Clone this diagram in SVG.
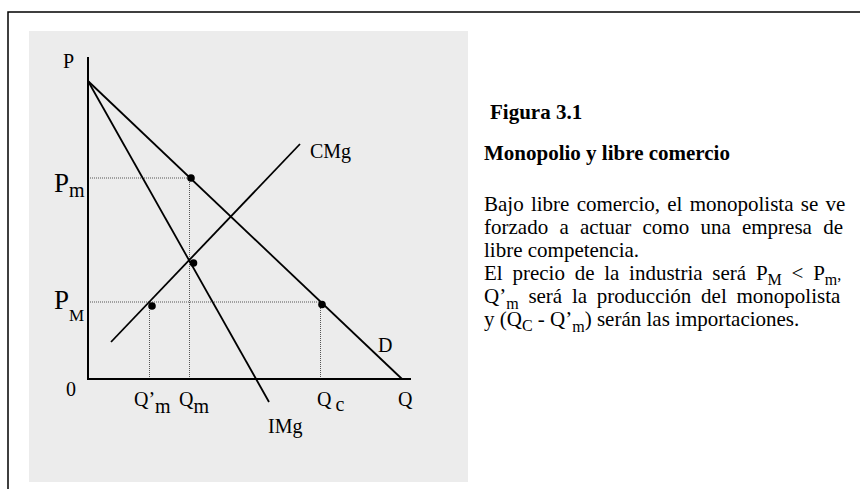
<svg xmlns="http://www.w3.org/2000/svg" width="860" height="489" viewBox="0 0 860 489">
<style>
text{font-family:"Liberation Serif","Times New Roman",serif;fill:#000}
.lbl{font-size:20px}
.big{font-size:27px}
.ttl{font-size:21px;font-weight:bold}
.body{font-size:21px}
.sub{font-size:16px}
.curve{stroke:#000;stroke-width:1.8;fill:none}
.dot{stroke:#555;stroke-width:1;stroke-dasharray:1 1;fill:none}
</style>
<rect x="0" y="0" width="860" height="489" fill="#fff"/>
<path d="M8,489 V12 H860" fill="none" stroke="#000" stroke-width="1.5"/>
<rect x="29" y="31" width="439" height="451" fill="#ececec"/>
<g id="connectors">
<path class="dot" d="M88,178 H191 M189.5,178 V379 M88,302 H321 M149.5,302 V379 M320.5,302 V379"/>
<path d="M88,57 V379 H411" fill="none" stroke="#000" stroke-width="2"/>
<line class="curve" x1="88" y1="81" x2="402" y2="379"/>
<line class="curve" x1="88" y1="81" x2="269" y2="402"/>
<line class="curve" x1="111" y1="342" x2="300" y2="144"/>
</g>
<g id="points">
<circle cx="191" cy="178" r="3.8"/>
<circle cx="193.5" cy="263" r="3.8"/>
<circle cx="152" cy="306" r="3.8"/>
<circle cx="322" cy="304.5" r="3.8"/>
</g>
<g id="labels">
<text class="lbl" x="63" y="68">P</text>
<text class="big" x="54" y="192">P<tspan font-size="20" dy="5">m</tspan></text>
<text class="big" x="54" y="309">P<tspan font-size="17" dy="12">M</tspan></text>
<text class="lbl" x="66" y="396">0</text>
<text class="lbl" x="134" y="406">Q’<tspan dy="7">m</tspan></text>
<text class="lbl" x="179" y="406">Q<tspan dy="7">m</tspan></text>
<text class="lbl" x="317" y="406">Q<tspan dx="4" dy="5">c</tspan></text>
<text class="lbl" x="398" y="406">Q</text>
<text class="lbl" x="268" y="433">IMg</text>
<text class="lbl" x="378" y="352">D</text>
<text class="lbl" x="310" y="158">CMg</text>
</g>
<g id="caption">
<text class="ttl" x="490" y="119">Figura 3.1</text>
<text class="ttl" x="484" y="160">Monopolio y libre comercio</text>
<text class="body" x="484" y="211" word-spacing="2">Bajo libre comercio, el monopolista se ve</text>
<text class="body" x="484" y="234" word-spacing="6">forzado a actuar como una empresa de</text>
<text class="body" x="484" y="257">libre competencia.</text>
<text class="body" x="484" y="280" word-spacing="4.5">El precio de la industria será P<tspan class="sub" dy="5">M</tspan><tspan dy="-5"> &lt; P</tspan><tspan class="sub" dy="5">m</tspan><tspan class="sub" dy="-5">,</tspan></text>
<text class="body" x="484" y="303" word-spacing="4.5">Q’<tspan class="sub" dy="6">m</tspan><tspan dy="-6"> será la producción del monopolista</tspan></text>
<text class="body" x="484" y="326">y (Q<tspan class="sub" dy="5">C</tspan><tspan dy="-5"> - Q’</tspan><tspan class="sub" dy="6">m</tspan><tspan dy="-6">) serán las importaciones.</tspan></text>
</g>
</svg>
